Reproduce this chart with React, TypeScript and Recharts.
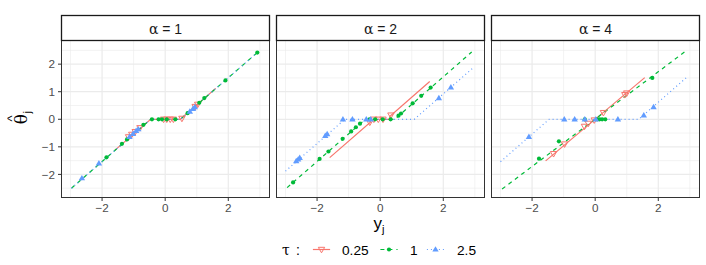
import React from 'react';
import { ComposedChart, Line, Scatter, XAxis, YAxis, CartesianGrid } from 'recharts';

// ---------- axes ----------
const xTicks = [-2, 0, 2];
const yTicks = [-2, -1, 0, 1, 2];
const xMinor = [-3, -1, 1, 3];
const yMinor = [-2.5, -1.5, -0.5, 0.5, 1.5, 2.5];
const xDomain = [-3.27, 3.29];
const yDomain = [-2.82, 2.84];

const alphaLabels = ['1', '2', '4'];
const tauLabels = ['0.25', '1', '2.5'];
const tauColors = ['#F8766D', '#00BA38', '#619CFF'];

// ---------- α = 1 ----------
const a1LineRedX = [-1.6, -0.46, 0.48, 1.6];
const a1LineRedY = [-1.13, 0, 0, 1.12];
const a1LineGreenX = [-2.97, -0.46, 0.48, 2.92];
const a1LineGreenY = [-2.5, 0, 0, 2.42];
const a1LineBlueX = [-2.97, -0.46, 0.48, 2.92];
const a1LineBlueY = [-2.5, 0, 0, 2.42];
const a1PtsRedX = [-1.16, -1.06, -0.95, -0.8, -0.05, 0.05, 0.16, 0.26, 0.53, 0.95, 1.03];
const a1PtsRedY = [-0.64, -0.55, -0.45, -0.31, 0, 0, 0, 0, 0.03, 0.46, 0.54];
const a1PtsGreenX = [-1.86, -1.37, -1.21, -0.69, -0.42, -0.21, -0.1, 0.05, 0.32, 0.71, 1.08, 1.24, 1.91, 2.92];
const a1PtsGreenY = [-1.38, -0.89, -0.73, -0.2, 0, 0, 0, 0, 0, 0.22, 0.6, 0.77, 1.41, 2.42];
const a1PtsBlueX = [-2.64, -2.1, -1.13, -1.02, -0.92, -0.85, 0.78, 0.88, 0.94];
const a1PtsBlueY = [-2.14, -1.6, -0.64, -0.53, -0.42, -0.36, 0.28, 0.38, 0.44];

// ---------- α = 2 ----------
const a2LineRedX = [-1.6, -0.31, -0.31, 0.31, 0.31, 1.57];
const a2LineRedY = [-1.39, -0.11, 0, 0, 0.11, 1.37];
const a2LineGreenX = [-2.95, -0.47, 0.46, 2.9];
const a2LineGreenY = [-2.48, 0, 0, 2.44];
const a2LineBlueX = [-3.0, -1.12, 1.08, 2.93];
const a2LineBlueY = [-1.88, 0, 0, 1.85];
const a2PtsRedX = [-0.33, -0.2, -0.06, 0.09, 0.34];
const a2PtsRedY = [-0.11, 0, 0, 0, 0.15];
const a2PtsGreenX = [-2.76, -1.92, -1.64, -1.19, -0.92, -0.77, -0.64, -0.34, -0.16, 0.08, 0.33, 0.58, 0.66, 1.03, 1.3, 1.6];
const a2PtsGreenY = [-2.29, -1.44, -1.17, -0.71, -0.44, -0.29, -0.16, 0, 0, 0, 0, 0.13, 0.21, 0.58, 0.85, 1.15];
const a2PtsBlueX = [-2.66, -2.6, -2.55, -1.74, -1.68, -1.18, -0.88, -0.44, -0.3, 1.86, 2.24];
const a2PtsBlueY = [-1.52, -1.46, -1.4, -0.6, -0.54, 0, 0, 0, 0, 0.77, 1.16];

// ---------- α = 4 ----------
const a3LineRedX = [-1.57, 1.57];
const a3LineRedY = [-1.51, 1.51];
const a3LineGreenX = [-2.95, 2.9];
const a3LineGreenY = [-2.53, 2.5];
const a3LineBlueX = [-3.0, -1.46, 1.38, 2.95];
const a3LineBlueY = [-1.54, 0, 0, 1.57];
const a3PtsRedX = [-1.32, -0.97, -0.34, -0.22, -0.03, 0.26, 0.94, 1.0];
const a3PtsRedY = [-1.25, -0.9, -0.26, -0.15, -0.03, 0.24, 0.89, 0.95];
const a3PtsGreenX = [-1.78, -1.15, -0.33, 0.06, 0.14, 0.22, 0.32, 1.81];
const a3PtsGreenY = [-1.43, -0.8, 0, 0, 0, 0, 0, 1.5];
const a3PtsBlueX = [-2.1, -0.98, -0.65, -0.33, 0.02, 0.72, 1.54, 1.85];
const a3PtsBlueY = [-0.64, 0, 0, 0, 0, 0, 0.14, 0.44];

const zip = (xs: number[], ys: number[]) => xs.map((x, i) => ({ x, y: ys[i] }));

const panels = [
  {
    lines: [zip(a1LineRedX, a1LineRedY), zip(a1LineGreenX, a1LineGreenY), zip(a1LineBlueX, a1LineBlueY)],
    pts: [zip(a1PtsRedX, a1PtsRedY), zip(a1PtsGreenX, a1PtsGreenY), zip(a1PtsBlueX, a1PtsBlueY)],
  },
  {
    lines: [zip(a2LineRedX, a2LineRedY), zip(a2LineGreenX, a2LineGreenY), zip(a2LineBlueX, a2LineBlueY)],
    pts: [zip(a2PtsRedX, a2PtsRedY), zip(a2PtsGreenX, a2PtsGreenY), zip(a2PtsBlueX, a2PtsBlueY)],
  },
  {
    lines: [zip(a3LineRedX, a3LineRedY), zip(a3LineGreenX, a3LineGreenY), zip(a3LineBlueX, a3LineBlueY)],
    pts: [zip(a3PtsRedX, a3PtsRedY), zip(a3PtsGreenX, a3PtsGreenY), zip(a3PtsBlueX, a3PtsBlueY)],
  },
];

const FONT = '"Liberation Sans", Arial, Helvetica, sans-serif';
const GREEK = '"DejaVu Serif", "Liberation Serif", serif';
const dashes = [undefined, '4 4', '1 3'];

const PANEL_LEFT = [62, 277, 492];
const PANEL_W = 207;
const PANEL_TOP = 41;
const PANEL_H = 156;
const STRIP_TOP = 16;
const AXIS_H = 26;
const Y_AXIS_W = 62;

const fmt = (v: number) => (v < 0 ? '\u2212' + Math.abs(v) : String(v));

const RedTri = (props: any) => {
  const { cx, cy } = props;
  if (cx == null || cy == null) return null;
  return (
    <polygon
      points={`${cx - 3.2},${cy - 2.2} ${cx + 3.2},${cy - 2.2} ${cx},${cy + 3.3}`}
      fill="none"
      stroke={tauColors[0]}
      strokeWidth={1}
    />
  );
};
const GreenDot = (props: any) => {
  const { cx, cy } = props;
  if (cx == null || cy == null) return null;
  return <circle cx={cx} cy={cy} r={2.1} fill={tauColors[1]} />;
};
const BlueTri = (props: any) => {
  const { cx, cy } = props;
  if (cx == null || cy == null) return null;
  return (
    <polygon
      points={`${cx - 3.2},${cy + 2.1} ${cx + 3.2},${cy + 2.1} ${cx},${cy - 3.3}`}
      fill={tauColors[2]}
    />
  );
};
const shapes = [RedTri, GreenDot, BlueTri];

function Panel({ idx }: { idx: number }) {
  const p = panels[idx];
  const first = idx === 0;
  const width = first ? PANEL_W + Y_AXIS_W : PANEL_W;
  const left = first ? PANEL_LEFT[0] - Y_AXIS_W : PANEL_LEFT[idx];
  return (
    <div style={{ position: 'absolute', left, top: PANEL_TOP }}>
      <ComposedChart width={width} height={PANEL_H + AXIS_H} margin={{ top: 0, right: 0, bottom: 0, left: 0 }}>
        <CartesianGrid
          stroke="#EBEBEB"
          strokeWidth={0.6}
          horizontalValues={yMinor}
          verticalValues={xMinor}
        />
        <CartesianGrid
          stroke="#EBEBEB"
          strokeWidth={1.2}
          horizontalValues={yTicks}
          verticalValues={xTicks}
        />
        <XAxis
          type="number"
          dataKey="x"
          domain={xDomain}
          allowDataOverflow
          ticks={xTicks}
          interval={0}
          tickFormatter={fmt}
          axisLine={false}
          tickLine={{ stroke: '#333333' }}
          tickSize={4}
          tickMargin={3}
          height={AXIS_H}
          tick={{ fill: '#4D4D4D', fontSize: 11.7, fontFamily: FONT }}
        />
        <YAxis
          type="number"
          dataKey="y"
          domain={yDomain}
          allowDataOverflow
          ticks={yTicks}
          interval={0}
          tickFormatter={fmt}
          hide={!first}
          width={first ? Y_AXIS_W : 0}
          axisLine={false}
          tickLine={{ stroke: '#333333' }}
          tickSize={4}
          tickMargin={3}
          tick={{ fill: '#4D4D4D', fontSize: 11.7, fontFamily: FONT }}
        />
        {p.lines.map((d, i) => (
          <Line
            key={'l' + i}
            data={d}
            dataKey="y"
            type="linear"
            stroke={tauColors[i]}
            strokeWidth={1.2}
            strokeDasharray={dashes[i]}
            dot={false}
            activeDot={false}
            isAnimationActive={false}
            legendType="none"
          />
        ))}
        {p.pts.map((d, i) => (
          <Scatter
            key={'s' + i}
            data={d}
            dataKey="y"
            shape={shapes[i]}
            isAnimationActive={false}
          />
        ))}
      </ComposedChart>
    </div>
  );
}

function Overlay() {
  const legendY = 249.5;
  const keyCenters = [321.5, 389, 435.5];
  const labelX = [342, 410, 457];
  return (
    <svg
      width={706}
      height={265}
      style={{ position: 'absolute', left: 0, top: 0, pointerEvents: 'none' }}
    >
      {PANEL_LEFT.map((lx, i) => (
        <g key={i}>
          <rect x={lx - 0.5} y={PANEL_TOP - 0.5} width={PANEL_W + 1} height={PANEL_H + 1} fill="none" stroke="#333333" strokeWidth={1} />
          <rect x={lx - 0.5} y={STRIP_TOP - 0.5} width={PANEL_W + 1} height={PANEL_TOP - STRIP_TOP} fill="#FFFFFF" stroke="#1A1A1A" strokeWidth={1.3} />
          <text x={lx + PANEL_W / 2} y={33.5} textAnchor="middle" fontSize={14} fill="#1A1A1A" fontFamily={FONT}>
            <tspan fontFamily={GREEK}>α</tspan>
            <tspan> = {alphaLabels[i]}</tspan>
          </text>
        </g>
      ))}
      {/* y axis title */}
      <g transform="translate(27,119) rotate(-90)">
        <text x={0} y={0} textAnchor="middle" fontSize={17} fill="#000" fontFamily={GREEK}>θ</text>
        <text x={0.5} y={-11} textAnchor="middle" fontSize={13} fill="#000" fontFamily={FONT}>^</text>
        <text x={5.5} y={4} fontSize={11} fill="#000" fontFamily={FONT}>j</text>
      </g>
      {/* x axis title */}
      <text x={379} y={229} textAnchor="middle" fontSize={17} fill="#000" fontFamily={FONT}>
        y<tspan fontSize={11} dy={4}>j</tspan>
      </text>
      {/* legend */}
      <text x={282} y={254.5} fontSize={14} fill="#000" fontFamily={GREEK}>τ</text>
      <text x={296} y={254.5} fontSize={14} fill="#000" fontFamily={FONT}>:</text>
      {keyCenters.map((c, i) => (
        <g key={i}>
          <line x1={c - 8.6} x2={c + 8.6} y1={legendY} y2={legendY} stroke={tauColors[i]} strokeWidth={1.2} strokeDasharray={dashes[i]} />
          {React.createElement(shapes[i], { cx: c, cy: legendY })}
          <text x={labelX[i]} y={254.5} fontSize={13.7} fill="#000" fontFamily={FONT}>{tauLabels[i]}</text>
        </g>
      ))}
    </svg>
  );
}

export default function App() {
  return (
    <div style={{ position: 'absolute', left: 0, top: 0, width: 706, height: 265, background: '#FFFFFF', overflow: 'hidden' }}>
      <Panel idx={0} />
      <Panel idx={1} />
      <Panel idx={2} />
      <Overlay />
    </div>
  );
}
